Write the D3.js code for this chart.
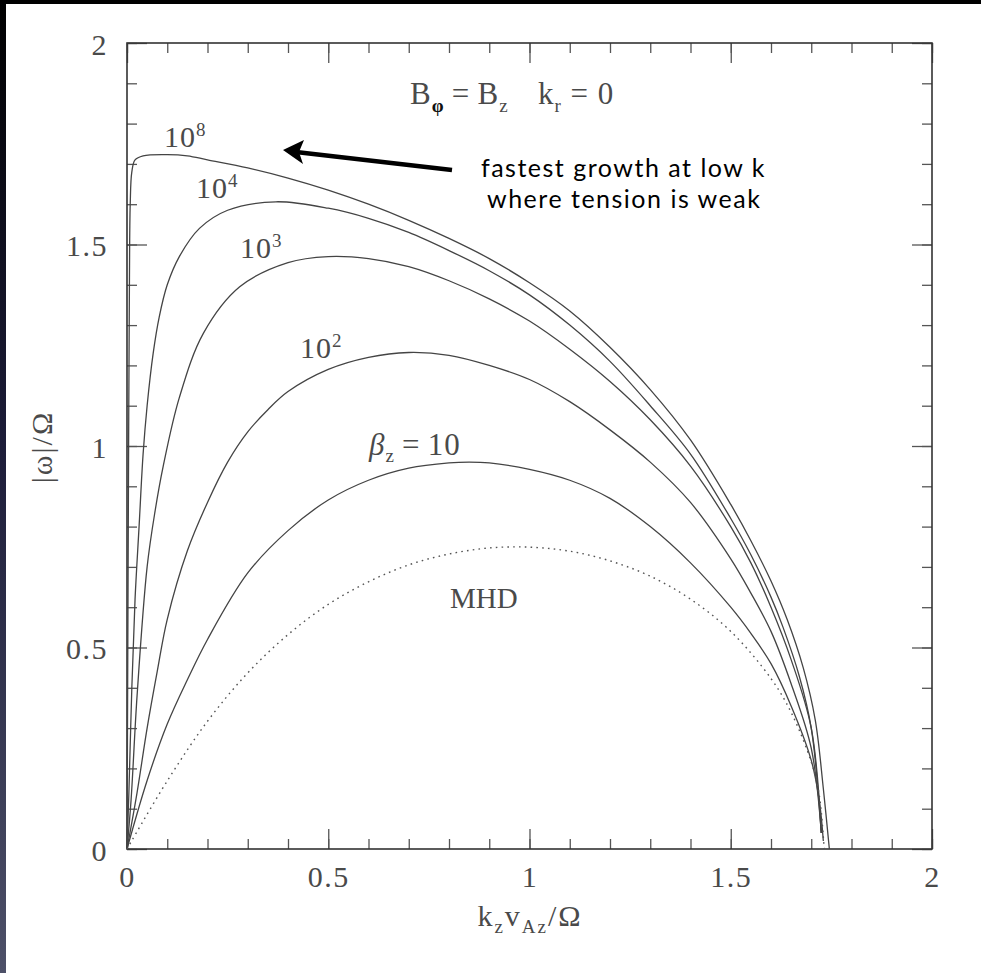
<!DOCTYPE html>
<html lang="en">
<head>
<meta charset="UTF-8">
<title>Kinetic MRI growth rates</title>
<script src="https://d3js.org/d3.v7.min.js"></script>
<style>
  body { margin: 0; background: #000; }
  .tick text { font-family: "Liberation Serif", serif; font-size: 30px; fill: #4a4a4a; }
  .tick line { stroke: #555; stroke-width: 1.3; }
  .lbl { font-family: "Liberation Serif", serif; fill: #4a4a4a; }
  .note { font-family: Lato, "Open Sans", sans-serif; font-size: 25px; fill: #000; letter-spacing: 1.5px; }
</style>
</head>
<body>
<svg width="981" height="973"></svg>
<script>
// curves: k_z v_Az / Omega  vs  |omega| / Omega
const b8_k = [0, 0.002, 0.004, 0.006, 0.008, 0.012, 0.02, 0.04, 0.1, 0.15, 0.2, 0.3, 0.4, 0.5, 0.6, 0.7, 0.8, 0.9, 1.0, 1.1, 1.2, 1.3, 1.4, 1.5, 1.55, 1.6, 1.64, 1.68, 1.71, 1.73, 1.745];
const b8_w = [0, 0.5, 1.0, 1.4, 1.6, 1.68, 1.71, 1.72, 1.723, 1.72, 1.71, 1.69, 1.665, 1.635, 1.6, 1.56, 1.515, 1.465, 1.405, 1.335, 1.245, 1.14, 1.015, 0.855, 0.765, 0.665, 0.57, 0.45, 0.32, 0.15, 0];

const b4_k = [0, 0.005, 0.012, 0.02, 0.03, 0.04, 0.05, 0.065, 0.08, 0.1, 0.13, 0.18, 0.25, 0.37, 0.5, 0.6, 0.7, 0.8, 0.9, 1.0, 1.1, 1.2, 1.3, 1.4, 1.5, 1.55, 1.6, 1.63, 1.67, 1.7, 1.725];
const b4_w = [0, 0.15, 0.4, 0.62, 0.8, 0.98, 1.1, 1.23, 1.32, 1.4, 1.47, 1.54, 1.585, 1.606, 1.59, 1.565, 1.53, 1.485, 1.435, 1.375, 1.3, 1.21, 1.1, 0.98, 0.82, 0.73, 0.625, 0.55, 0.43, 0.3, 0.04];

const b3_k = [0, 0.01, 0.025, 0.05, 0.07, 0.09, 0.13, 0.19, 0.28, 0.4, 0.5, 0.6, 0.7, 0.8, 0.9, 1.0, 1.1, 1.2, 1.3, 1.4, 1.5, 1.55, 1.6, 1.65, 1.7, 1.725];
const b3_w = [0, 0.12, 0.38, 0.7, 0.84, 0.95, 1.12, 1.28, 1.395, 1.455, 1.47, 1.465, 1.445, 1.41, 1.365, 1.31, 1.24, 1.16, 1.065, 0.95, 0.8, 0.71, 0.6, 0.47, 0.3, 0.04];

const b2_k = [0, 0.025, 0.05, 0.075, 0.1, 0.15, 0.2, 0.25, 0.3, 0.35, 0.4, 0.5, 0.6, 0.7, 0.8, 0.9, 1.0, 1.1, 1.2, 1.3, 1.4, 1.5, 1.55, 1.6, 1.65, 1.7, 1.725];
const b2_w = [0, 0.14, 0.3, 0.44, 0.57, 0.74, 0.86, 0.96, 1.035, 1.09, 1.135, 1.19, 1.22, 1.232, 1.225, 1.2, 1.165, 1.11, 1.04, 0.96, 0.86, 0.72, 0.635, 0.54, 0.41, 0.25, 0.04];

const b1_k = [0, 0.05, 0.1, 0.15, 0.2, 0.3, 0.4, 0.5, 0.6, 0.7, 0.8, 0.85, 0.9, 1.0, 1.1, 1.2, 1.3, 1.4, 1.5, 1.55, 1.6, 1.65, 1.7, 1.72, 1.73];
const b1_w = [0, 0.17, 0.31, 0.42, 0.52, 0.685, 0.79, 0.866, 0.915, 0.945, 0.958, 0.96, 0.958, 0.942, 0.915, 0.87, 0.8, 0.71, 0.6, 0.535, 0.46, 0.355, 0.22, 0.12, 0.02];

const mhd_k = [0, 0.1, 0.2, 0.3, 0.4, 0.5, 0.6, 0.7, 0.8, 0.9, 1.0, 1.1, 1.2, 1.3, 1.4, 1.5, 1.6, 1.65, 1.7, 1.72, 1.732];
const mhd_w = [0, 0.169, 0.317, 0.437, 0.532, 0.607, 0.663, 0.705, 0.732, 0.747, 0.749, 0.739, 0.715, 0.677, 0.62, 0.54, 0.423, 0.339, 0.216, 0.133, 0];

const xMajor = [0, 0.5, 1, 1.5, 2];
const xTickLabels = ["0", "0.5", "1", "1.5", "2"];
const yMajor = [0, 0.5, 1, 1.5, 2];
const yTickLabels = ["0", "0.5", "1", "1.5", "2"];
const minorTicks = d3.range(0, 21).map(i => i / 10);

const svg = d3.select("svg");

// slide background: black top strip, bluish left edge, white page
const grad = svg.append("defs").append("linearGradient")
    .attr("id", "edge").attr("x1", 0).attr("y1", 0).attr("x2", 0).attr("y2", 1);
grad.append("stop").attr("offset", "0%").attr("stop-color", "#000");
grad.append("stop").attr("offset", "45%").attr("stop-color", "#1c1c38");
grad.append("stop").attr("offset", "100%").attr("stop-color", "#4d5068");
svg.append("rect").attr("width", 981).attr("height", 973).attr("fill", "#000");
svg.append("rect").attr("y", 0).attr("width", 6).attr("height", 973).attr("fill", "url(#edge)");
svg.append("rect").attr("x", 6).attr("y", 4).attr("width", 975).attr("height", 969).attr("fill", "#fff");

const x = d3.scaleLinear().domain([0, 2]).range([127, 932]);
const y = d3.scaleLinear().domain([0, 2]).range([849, 43]);

function axisStyle(g) {
  g.select(".domain").remove();
}

// minor ticks on all four sides
svg.append("g").attr("transform", "translate(0,849)")
  .call(d3.axisBottom(x).tickValues(minorTicks).tickSize(-10).tickFormat(""))
  .call(axisStyle);
svg.append("g").attr("transform", "translate(0,43)")
  .call(d3.axisTop(x).tickValues(minorTicks).tickSize(-10).tickFormat(""))
  .call(axisStyle);
svg.append("g").attr("transform", "translate(127,0)")
  .call(d3.axisLeft(y).tickValues(minorTicks).tickSize(-10).tickFormat(""))
  .call(axisStyle);
svg.append("g").attr("transform", "translate(932,0)")
  .call(d3.axisRight(y).tickValues(minorTicks).tickSize(-10).tickFormat(""))
  .call(axisStyle);

// major ticks
const xb = svg.append("g").attr("transform", "translate(0,849)")
  .call(d3.axisBottom(x).tickValues(xMajor).tickSize(-20).tickFormat((d, i) => xTickLabels[i]))
  .call(axisStyle);
xb.selectAll("text").attr("y", 38).attr("dy", null).attr("letter-spacing", 1.5);
svg.append("g").attr("transform", "translate(0,43)")
  .call(d3.axisTop(x).tickValues(xMajor).tickSize(-20).tickFormat(""))
  .call(axisStyle);
const yl = svg.append("g").attr("transform", "translate(127,0)")
  .call(d3.axisLeft(y).tickValues(yMajor).tickSize(-20).tickFormat((d, i) => yTickLabels[i]))
  .call(axisStyle);
yl.selectAll("text").attr("x", -19).attr("dy", 11).attr("letter-spacing", 1.5);
svg.append("g").attr("transform", "translate(932,0)")
  .call(d3.axisRight(y).tickValues(yMajor).tickSize(-20).tickFormat(""))
  .call(axisStyle);

// frame
svg.append("rect")
  .attr("x", x(0)).attr("y", y(2))
  .attr("width", x(2) - x(0)).attr("height", y(0) - y(2))
  .attr("fill", "none").attr("stroke", "#333").attr("stroke-width", 1.6);

// curves
const line = d3.line().x(d => x(d[0])).y(d => y(d[1])).curve(d3.curveCatmullRom.alpha(0.5));
const series = [
  [b8_k, b8_w], [b4_k, b4_w], [b3_k, b3_w], [b2_k, b2_w], [b1_k, b1_w]
];
series.forEach(([k, w]) => {
  svg.append("path")
    .datum(k.map((v, i) => [v, w[i]]))
    .attr("d", line)
    .attr("fill", "none")
    .attr("stroke", "#444")
    .attr("stroke-width", 1.3);
});
svg.append("path")
  .datum(mhd_k.map((v, i) => [v, mhd_w[i]]))
  .attr("d", line)
  .attr("fill", "none")
  .attr("stroke", "#555")
  .attr("stroke-width", 1.4)
  .attr("stroke-dasharray", "1.6,4.2");

// curve labels
function power(px, py, base, exp) {
  const t = svg.append("text").attr("class", "lbl").attr("x", px).attr("y", py)
    .attr("font-size", 30).attr("letter-spacing", 1);
  t.append("tspan").text(base);
  t.append("tspan").attr("font-size", 19).attr("dy", -11).text(exp);
}
power(164, 147, "10", "8");
power(196, 198, "10", "4");
power(240, 258, "10", "3");
power(300, 358, "10", "2");

const bz = svg.append("text").attr("class", "lbl").attr("x", 369).attr("y", 455)
  .attr("font-size", 31).attr("letter-spacing", 1);
bz.append("tspan").attr("font-style", "italic").text("β");
bz.append("tspan").attr("font-size", 19).attr("dy", 7).text("z");
bz.append("tspan").attr("dy", -7).text("\u2009=\u200910");

svg.append("text").attr("class", "lbl").attr("x", 450).attr("y", 608)
  .attr("font-size", 29).text("MHD");

// header
const hd = svg.append("text").attr("class", "lbl").attr("x", 410).attr("y", 104)
  .attr("font-size", 31).attr("letter-spacing", 1);
hd.append("tspan").text("B");
hd.append("tspan").attr("font-size", 19).attr("dy", 8).attr("fill", "#111").attr("font-weight", "bold").text("φ");
hd.append("tspan").attr("dy", -8).text("\u2009=\u2009B");
hd.append("tspan").attr("font-size", 19).attr("dy", 8).text("z");
hd.append("tspan").attr("dy", -8).attr("x", 538).text("k");
hd.append("tspan").attr("font-size", 19).attr("dy", 8).text("r");
hd.append("tspan").attr("dy", -8).text(" = 0");

// axis titles
const xt = svg.append("text").attr("class", "lbl").attr("x", 530).attr("y", 926)
  .attr("text-anchor", "middle").attr("font-size", 30).attr("letter-spacing", 2);
xt.append("tspan").text("k");
xt.append("tspan").attr("font-size", 19).attr("dy", 7).text("z");
xt.append("tspan").attr("dy", -7).text("v");
xt.append("tspan").attr("font-size", 19).attr("dy", 7).text("Az");
xt.append("tspan").attr("dy", -7).text("/Ω");

svg.append("text").attr("class", "lbl")
  .attr("transform", "translate(52,447) rotate(-90)")
  .attr("text-anchor", "middle").attr("font-size", 30)
  .attr("letter-spacing", 2)
  .text("|ω|/Ω");

// annotation arrow
svg.append("line")
  .attr("x1", 452).attr("y1", 170).attr("x2", 296).attr("y2", 152)
  .attr("stroke", "#000").attr("stroke-width", 4.5);
svg.append("path")
  .attr("d", "M283,150 L304,140 L299,152 L303,164 Z")
  .attr("fill", "#000");

svg.append("text").attr("class", "note").attr("x", 481).attr("y", 177).text("fastest growth at low k");
svg.append("text").attr("class", "note").attr("x", 487).attr("y", 208).text("where tension is weak");
</script>
</body>
</html>
